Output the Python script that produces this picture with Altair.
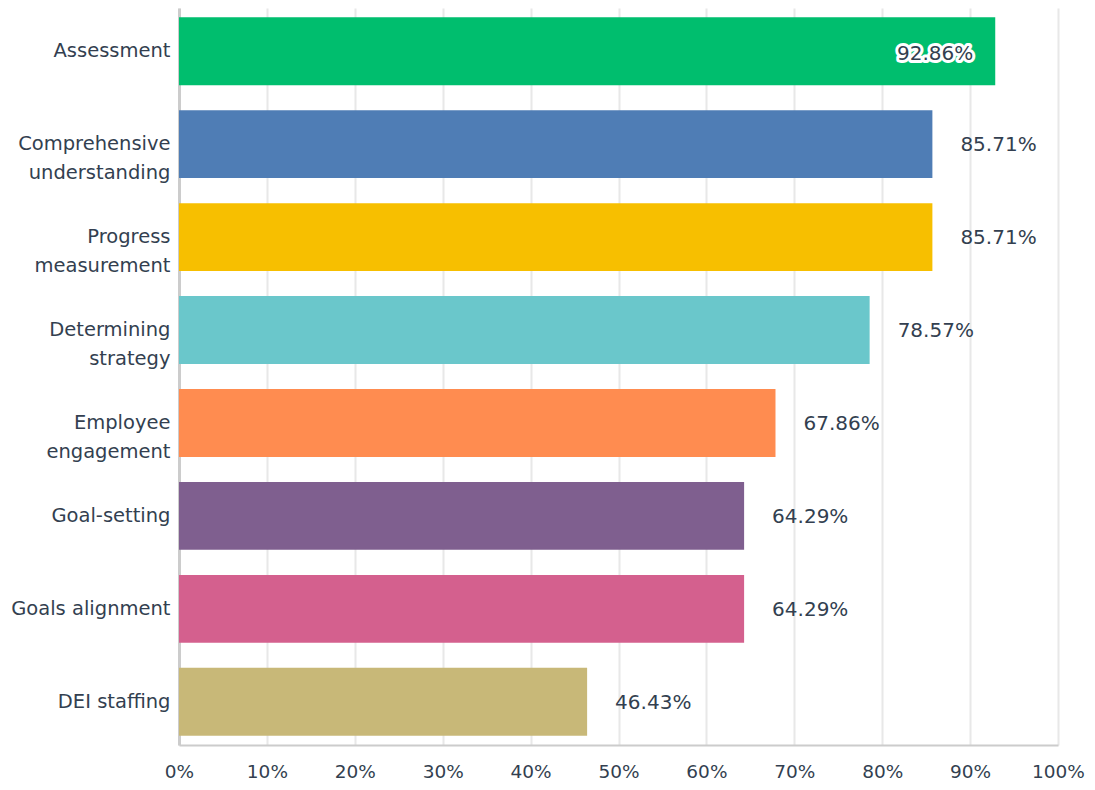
import altair as alt
import pandas as pd

categories = ["Assessment", "Comprehensive understanding", "Progress measurement",
              "Determining strategy", "Employee engagement", "Goal-setting",
              "Goals alignment", "DEI staffing"]
axis_labels = ["Assessment", "Comprehensive|understanding", "Progress|measurement",
               "Determining|strategy", "Employee|engagement", "Goal-setting",
               "Goals alignment", "DEI staffing"]
values = [92.86, 85.71, 85.71, 78.57, 67.86, 64.29, 64.29, 46.43]
colors = ["#00BE6E", "#4F7DB5", "#F7BF00", "#6AC7CB", "#FF8C50", "#7F5F8F", "#D4608E", "#C8B878"]

df = pd.DataFrame({"category": categories, "value": values, "axlabel": axis_labels})
df["label"] = [f"{v:.2f}%" for v in values]
df["inside"] = [v > 90 for v in values]

FONT = "DejaVu Sans"
TXT = "#333F50"

label_map = "{" + ",".join(f"'{c}':'{a}'" for c, a in zip(categories, axis_labels)) + "}"

base = alt.Chart(df)

bars = base.mark_bar().encode(
    y=alt.Y("category:N", sort=categories,
            scale=alt.Scale(paddingInner=0.27, paddingOuter=0.1),
            axis=alt.Axis(title=None, labelFont=FONT, labelFontSize=19.5, labelColor=TXT,
                          labelPadding=9, ticks=False, domainColor="#cccccc", domainWidth=3,
                          labelLineHeight=29, labelLimit=300,
                          labelExpr=f"split({label_map}[datum.label], '|')")),
    x=alt.X("value:Q", scale=alt.Scale(domain=[0, 100], nice=False),
            axis=alt.Axis(title=None, values=list(range(0, 101, 10)), labelFont=FONT,
                          labelFontSize=18.5, labelColor=TXT, labelPadding=17, ticks=False,
                          domainColor="#cccccc", domainWidth=2, gridColor="#e8e8e8",
                          gridWidth=2, labelExpr="datum.value + '%'", labelFlush=False)),
    color=alt.Color("category:N", scale=alt.Scale(domain=categories, range=colors), legend=None),
)

outside = base.transform_filter("!datum.inside").mark_text(
    align="left", baseline="middle", dx=28, dy=1, font=FONT, fontSize=20, color=TXT
).encode(y=alt.Y("category:N", sort=categories), x="value:Q", text="label:N")

halo = base.transform_filter("datum.inside").mark_text(
    align="right", baseline="middle", dx=-22, dy=3, font=FONT, fontSize=20,
    color="white", stroke="white", strokeWidth=6, strokeJoin="round"
).encode(y=alt.Y("category:N", sort=categories), x="value:Q", text="label:N")

inside = base.transform_filter("datum.inside").mark_text(
    align="right", baseline="middle", dx=-22, dy=3, font=FONT, fontSize=20, color=TXT
).encode(y=alt.Y("category:N", sort=categories), x="value:Q", text="label:N")

chart = alt.layer(bars, outside, halo, inside).properties(
    width=879, height=737,
    autosize=alt.AutoSizeParams(type="none"),
    padding={"left": 171, "top": 0, "right": 29, "bottom": 37},
).configure_view(stroke=None)

chart.save("out.html", embed_options={"renderer": "svg", "actions": False})
